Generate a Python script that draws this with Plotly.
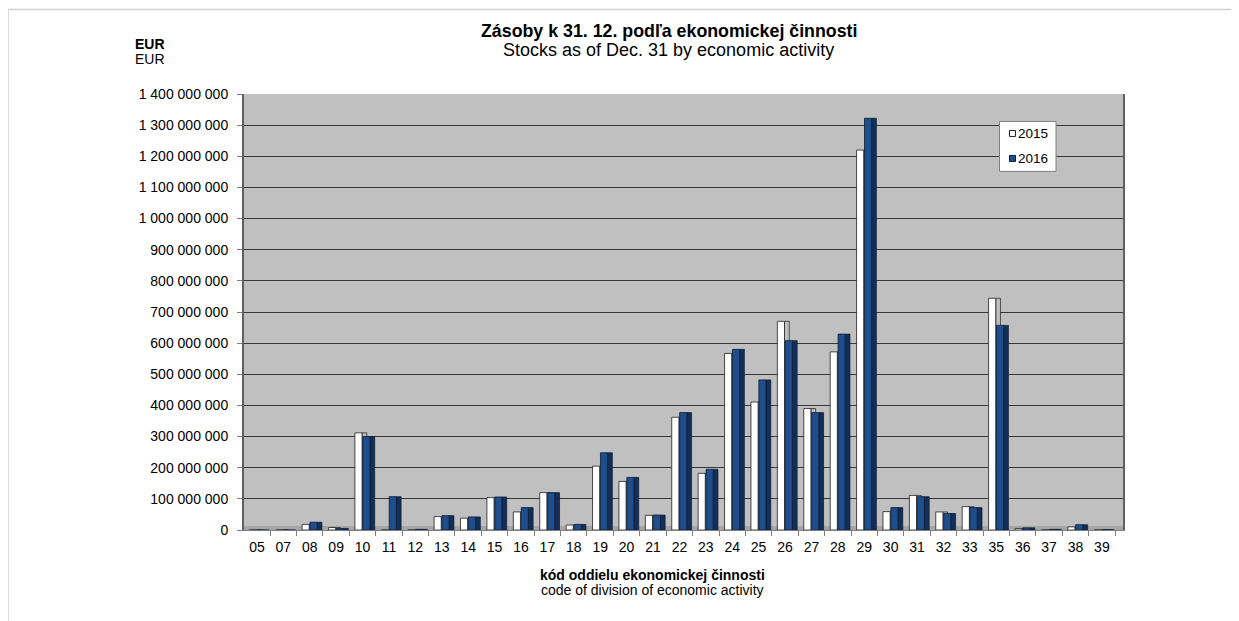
import plotly.graph_objects as go

# ---- data ----
categories = ["05", "07", "08", "09", "10", "11", "12", "13", "14", "15", "16",
              "17", "18", "19", "20", "21", "22", "23", "24", "25", "26", "27",
              "28", "29", "30", "31", "32", "33", "35", "36", "37", "38", "39"]
values_2015 = [0, 0, 18e6, 8e6, 312e6, 0, 0, 43e6, 38e6, 104e6, 58e6,
               120e6, 16e6, 205e6, 156e6, 47e6, 362e6, 182e6, 567e6, 411e6, 670e6, 390e6,
               572e6, 1220e6, 59e6, 111e6, 58e6, 75e6, 744e6, 5e6, 0, 10e6, 0]
values_2016 = [0, 0, 25e6, 5e6, 300e6, 107e6, 2e6, 46e6, 42e6, 106e6, 72e6,
               120e6, 18e6, 248e6, 169e6, 48e6, 377e6, 195e6, 580e6, 482e6, 608e6, 377e6,
               629e6, 1322e6, 72e6, 107e6, 53e6, 72e6, 657e6, 7e6, 2e6, 17e6, 1e6]
series_names = ["2015", "2016"]
y_ticks = list(range(0, 1_400_000_001, 100_000_000))

title_sk = "Zásoby k 31. 12. podľa ekonomickej činnosti"
title_en = "Stocks as of Dec. 31 by economic activity"
unit_sk = "EUR"
unit_en = "EUR"
xtitle_sk = "kód oddielu ekonomickej činnosti"
xtitle_en = "code of division of economic activity"

# ---- colours ----
C_WHITE, C_WHITE_SIDE = "#FFFFFF", "#BFBFBF"
C_BLUE, C_BLUE_SIDE = "#1F4E8C", "#132F58"

# ---- layout geometry (pixels in the page; page body has an 8px margin) ----
O = 8
W, H = 1239 - O, 621 - O
L, R, T, B = 244 - O, 1123 - O, 93.5 - O, 530 - O
pw, ph = R - L, B - T


def px(x):
    return (x - O - L) / pw


def py(y):
    return (B - (y - O)) / ph


FONT = "Liberation Sans, Arial, sans-serif"

fig = go.Figure()

# white bar side (mostly hidden)
fig.add_trace(go.Bar(x=categories, y=values_2015, offset=-0.02, width=0.18,
                     marker=dict(color=C_WHITE_SIDE, line=dict(color="#202020", width=0.7)),
                     showlegend=False, hoverinfo="skip"))
# white bar front
fig.add_trace(go.Bar(x=categories, y=values_2015, offset=-0.29, width=0.27,
                     name=series_names[0], showlegend=False,
                     marker=dict(color=C_WHITE, line=dict(color="#202020", width=0.8))))
# blue bar side
fig.add_trace(go.Bar(x=categories, y=values_2016, offset=0.28, width=0.18,
                     marker=dict(color=C_BLUE_SIDE, line=dict(color="#0A1A33", width=0.7)),
                     showlegend=False, hoverinfo="skip"))
# blue bar front
fig.add_trace(go.Bar(x=categories, y=values_2016, offset=0.01, width=0.27,
                     name=series_names[1], showlegend=False,
                     marker=dict(color=C_BLUE, line=dict(color="#0A1A33", width=0.8))))

annotations = [
    dict(text="<b>" + title_sk + "</b>", x=px(669), y=py(30), xref="paper", yref="paper",
         showarrow=False, xanchor="center", yanchor="middle",
         font=dict(family=FONT, size=17.8, color="#000000")),
    dict(text=title_en, x=px(668), y=py(49), xref="paper", yref="paper",
         showarrow=False, xanchor="center", yanchor="middle",
         font=dict(family=FONT, size=18, color="#000000")),
    dict(text="<b>" + unit_sk + "</b>", x=px(133), y=py(43), xref="paper", yref="paper",
         showarrow=False, xanchor="left", yanchor="middle",
         font=dict(family=FONT, size=14, color="#000000")),
    dict(text=unit_en, x=px(133), y=py(58), xref="paper", yref="paper",
         showarrow=False, xanchor="left", yanchor="middle",
         font=dict(family=FONT, size=14, color="#000000")),
    dict(text="<b>" + xtitle_sk + "</b>", x=px(652), y=py(575), xref="paper", yref="paper",
         showarrow=False, xanchor="center", yanchor="middle",
         font=dict(family=FONT, size=14, color="#000000")),
    dict(text=xtitle_en, x=px(652), y=py(590), xref="paper", yref="paper",
         showarrow=False, xanchor="center", yanchor="middle",
         font=dict(family=FONT, size=14, color="#000000")),
]

shapes = [
    # outer frame (top and left)
    dict(type="line", xref="paper", yref="paper", x0=px(8), x1=px(1239), y0=py(9), y1=py(9),
         line=dict(color="#D0D0D0", width=1.5)),
    dict(type="line", xref="paper", yref="paper", x0=px(8), x1=px(8), y0=py(9), y1=py(621),
         line=dict(color="#D0D0D0", width=1.5)),
    # floor
    dict(type="rect", xref="paper", yref="paper", x0=0, x1=1, y0=0, y1=py(526),
         fillcolor="#A6A6A6", line=dict(width=0), layer="below"),
    # legend box
    dict(type="rect", xref="paper", yref="paper", x0=px(999.5), x1=px(1056),
         y0=py(171), y1=py(121), fillcolor="#FFFFFF",
         line=dict(color="#808080", width=1), layer="above"),
]

# compact legend entries (marker square + label)
legend_rows = [(series_names[0], C_WHITE, "#202020", 133),
               (series_names[1], C_BLUE, "#0A1A33", 158)]
for name, fill, edge, yc in legend_rows:
    shapes.append(dict(type="rect", xref="paper", yref="paper",
                       x0=px(1009.5), x1=px(1015.5), y0=py(yc + 3), y1=py(yc - 3),
                       fillcolor=fill, line=dict(color=edge, width=1), layer="above"))
    annotations.append(dict(text=name, x=px(1016), y=py(yc), xref="paper", yref="paper",
                            showarrow=False, xanchor="left", yanchor="middle",
                            font=dict(family=FONT, size=13.5, color="#000000")))

fig.update_layout(
    width=W, height=H,
    margin=dict(l=L, r=W - R, t=T, b=H - B, autoexpand=False),
    paper_bgcolor="#FFFFFF",
    plot_bgcolor="#C0C0C0",
    barmode="overlay",
    separators=", ",
    showlegend=False,
    font=dict(family=FONT, size=14, color="#000000"),
    annotations=annotations,
    shapes=shapes,
    xaxis=dict(type="category", range=[-0.49, 32.8], showgrid=False,
               tickson="boundaries", ticks="outside", ticklen=5, tickcolor="#808080",
               showline=True, linecolor="#808080", linewidth=1, mirror=False,
               ticklabelstandoff=4, tickfont=dict(size=14)),
    yaxis=dict(range=[0, 1.4e9], tickvals=y_ticks, tickformat=",d",
               showgrid=True, gridcolor="#383838", gridwidth=1.4,
               zeroline=False, ticks="outside", ticklen=5, tickcolor="#808080",
               showline=True, linecolor="#606060", linewidth=2, mirror=True,
               ticklabelstandoff=6, tickfont=dict(size=14)),
)

fig.write_html("out.html")
